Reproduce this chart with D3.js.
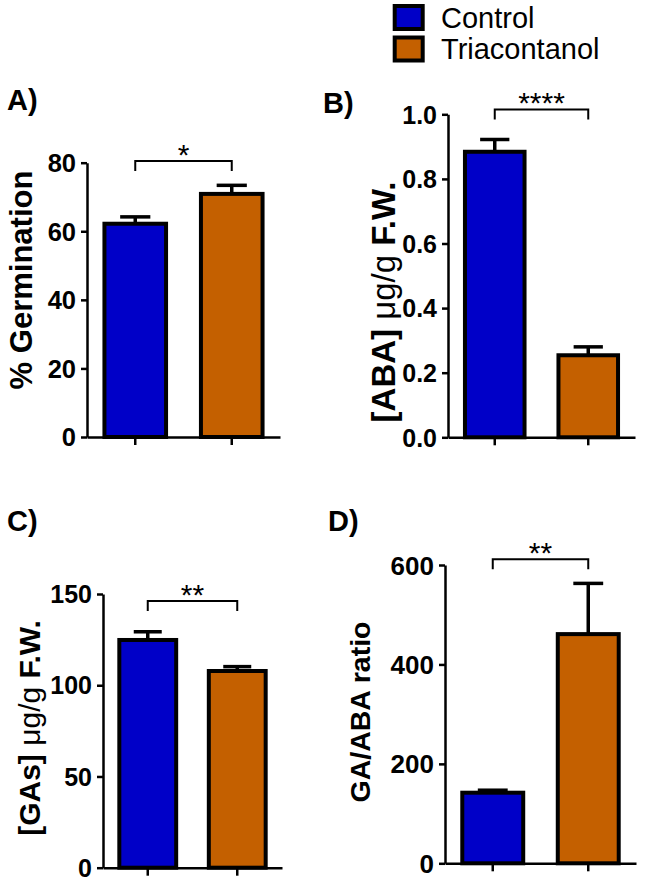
<!DOCTYPE html>
<html>
<head>
<meta charset="utf-8">
<script src="https://cdn.jsdelivr.net/npm/d3@7"></script>
<style>
  html, body { margin: 0; padding: 0; background: #ffffff; }
  svg { display: block; }
  text { font-family: "Liberation Sans", Arial, Helvetica, sans-serif; fill: #000; }
</style>
</head>
<body>
<svg id="chart" width="645" height="882"></svg>
<script>
// ---------------- DATA ----------------
const groups = ["Control", "Triacontanol"];
const groupColors = ["#0000C8", "#C46000"];

const germinationMean = [62.2, 70.9];
const germinationErr  = [2.0, 2.5];

const abaMean = [0.884, 0.254];
const abaErr  = [0.038, 0.026];

const gasMean = [124.8, 107.8];
const gasErr  = [4.5, 2.4];

const ratioMean = [142, 461];
const ratioErr  = [5, 102];

const germinationTicks = [0, 20, 40, 60, 80];
const abaTicks = [0, 0.2, 0.4, 0.6, 0.8, 1.0];
const gasTicks = [0, 50, 100, 150];
const ratioTicks = [0, 200, 400, 600];

const panelLetters = ["A)", "B)", "C)", "D)"];
const sigStars = ["*", "****", "**", "**"];
const sigBracketLevel = [80.5, 1.015, 146.2, 611.5];

// ---------------- LAYOUT / STYLE ----------------
const panels = [
  { mean: germinationMean, err: germinationErr, ticks: germinationTicks, fmt: d3.format("d"),
    title: [["% Germination", 700]], titleSize: 31, tickSize: 25.5,
    ax: 87, xEnd: 280, yTop: 162.7, y0: 437, lx: 7, ly: 110, tx: 32, ty: 280 },
  { mean: abaMean, err: abaErr, ticks: abaTicks, fmt: d3.format(".1f"),
    title: [["[ABA] ", 700], ["μg/g", 400], [" F.W.", 700]], titleSize: 33, tickSize: 25,
    ax: 448, xEnd: 635, yTop: 114.3, y0: 437.3, lx: 323, ly: 113, tx: 395, ty: 302 },
  { mean: gasMean, err: gasErr, ticks: gasTicks, fmt: d3.format("d"),
    title: [["[GAs] ", 700], ["μg/g", 400], [" F.W.", 700]], titleSize: 30, tickSize: 25,
    ax: 103, xEnd: 282, yTop: 594, y0: 867.7, lx: 7, ly: 531, tx: 40, ty: 728 },
  { mean: ratioMean, err: ratioErr, ticks: ratioTicks, fmt: d3.format("d"),
    title: [["GA/ABA ratio", 700]], titleSize: 28.5, tickSize: 26,
    ax: 445, xEnd: 636, yTop: 565, y0: 863.3, lx: 328, ly: 531, tx: 370, ty: 712 }
];

const svg = d3.select("#chart");

panels.forEach((p, i) => {
  const g = svg.append("g");
  const x = d3.scaleBand().domain(groups).range([p.ax, p.xEnd])
    .paddingInner(0.32).paddingOuter(0.16);
  const ticksMax = d3.max(p.ticks);
  const y = d3.scaleLinear().domain([0, ticksMax]).range([p.y0, p.yTop]);

  // error bars (upper only)
  const capW = x.bandwidth() * 0.46;
  groups.forEach((grp, k) => {
    const cx = x(grp) + x.bandwidth() / 2;
    g.append("line")
      .attr("x1", cx).attr("x2", cx)
      .attr("y1", y(p.mean[k])).attr("y2", y(p.mean[k] + p.err[k]))
      .attr("stroke", "#000").attr("stroke-width", 3.5);
    g.append("line")
      .attr("x1", cx - capW / 2).attr("x2", cx + capW / 2)
      .attr("y1", y(p.mean[k] + p.err[k])).attr("y2", y(p.mean[k] + p.err[k]))
      .attr("stroke", "#000").attr("stroke-width", 3.5);
  });

  // bars
  const sw = 4;
  g.selectAll("rect.bar").data(groups).enter().append("rect")
    .attr("class", "bar")
    .attr("x", d => x(d) + sw / 2)
    .attr("width", x.bandwidth() - sw)
    .attr("y", (d, k) => y(p.mean[k]))
    .attr("height", (d, k) => y(0) - y(p.mean[k]))
    .attr("fill", (d, k) => groupColors[k])
    .attr("stroke", "#000").attr("stroke-width", sw);

  // y axis
  const yAxis = d3.axisLeft(y).tickValues(p.ticks).tickFormat(p.fmt)
    .tickSize(6).tickSizeOuter(0).tickPadding(5);
  const ya = g.append("g").attr("transform", `translate(${p.ax},0)`).call(yAxis);
  ya.select(".domain").attr("stroke-width", 2.5);
  ya.selectAll(".tick line").attr("stroke-width", 2.5);
  ya.selectAll(".tick text")
    .attr("font-size", p.tickSize).attr("font-weight", 700)
    .attr("font-family", "'Liberation Sans', Arial, sans-serif")
    .attr("dy", "0.35em");

  // x axis
  const xAxis = d3.axisBottom(x).tickFormat("").tickSize(8).tickSizeOuter(0);
  const xa = g.append("g").attr("transform", `translate(0,${p.y0})`).call(xAxis);
  xa.select(".domain").attr("stroke-width", 2.5);
  xa.selectAll(".tick line").attr("stroke-width", 2.5);

  // significance bracket
  const x1 = x(groups[0]) + x.bandwidth() / 2;
  const x2 = x(groups[1]) + x.bandwidth() / 2;
  const by = y(sigBracketLevel[i]);
  g.append("path")
    .attr("d", `M${x1},${by + 10}V${by}H${x2}V${by + 10}`)
    .attr("fill", "none").attr("stroke", "#000").attr("stroke-width", 2);
  g.append("text")
    .attr("x", (x1 + x2) / 2).attr("y", by + 4)
    .attr("text-anchor", "middle")
    .attr("font-size", 30)
    .text(sigStars[i]);

  // panel letter
  g.append("text")
    .attr("x", p.lx).attr("y", p.ly)
    .attr("font-size", 29).attr("font-weight", 700)
    .text(panelLetters[i]);

  // y title
  const t = g.append("text")
    .attr("transform", `translate(${p.tx},${p.ty}) rotate(-90)`)
    .attr("text-anchor", "middle")
    .attr("font-size", p.titleSize);
  p.title.forEach(([s, w]) => t.append("tspan").attr("font-weight", w).text(s));
});

// legend
const legend = svg.append("g");
const legendRows = [17.5, 49];
groups.forEach((grp, k) => {
  legend.append("rect")
    .attr("x", 394.7).attr("y", legendRows[k] - 11.5)
    .attr("width", 28).attr("height", 23)
    .attr("fill", groupColors[k]).attr("stroke", "#000").attr("stroke-width", 4);
  legend.append("text")
    .attr("x", 441).attr("y", legendRows[k] + 10.3)
    .attr("font-size", 29)
    .text(grp);
});
</script>
</body>
</html>
